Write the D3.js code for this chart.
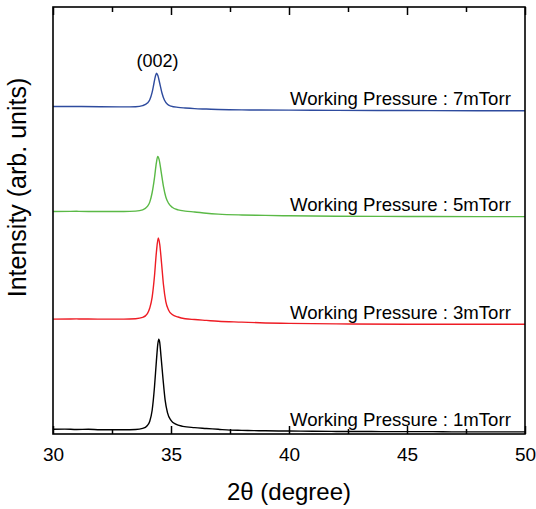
<!DOCTYPE html>
<html>
<head>
<meta charset="utf-8">
<script src="https://cdn.jsdelivr.net/npm/d3@7"></script>
<style>
  html, body { margin: 0; padding: 0; background: #fff; }
  svg { display: block; font-family: "Liberation Sans", Arial, sans-serif; }
</style>
</head>
<body>
<svg id="chart" width="536" height="509"></svg>
<script>
// ---- data (2θ in degrees, stacked intensity in arb. units) ----
const seriesNames = ["1mTorr", "3mTorr", "5mTorr", "7mTorr"];
const seriesColors = ["#000000", "#ee1c24", "#5ab946", "#2e4b9e"];

const black1 = [[30,1.1],[30.5,1.15],[31,1.05],[31.5,1.1],[32,1.0],[32.5,1.0],[33,1.0],[33.5,1.05],[33.8,1.3],[34.0,2.0],[34.1,3.0],[34.2,5.5],[34.3,11],[34.38,17],[34.44,21],[34.48,22.2],[34.52,21.5],[34.58,18],[34.66,13],[34.75,8],[34.85,5],[35.0,3.2],[35.2,2.3],[35.5,1.8],[36,1.5],[36.5,1.3],[37,1.1],[37.5,0.9],[38,0.85],[38.5,0.8],[39,0.75],[40,0.7],[41,0.65],[42,0.6],[43,0.6],[44,0.55],[45,0.55],[46,0.55],[47,0.5],[48,0.5],[49,0.5],[50,0.5]];
const red3 = [[30,26.9],[31,26.95],[32,26.9],[33,26.9],[33.5,27.0],[33.8,27.3],[34.0,28.2],[34.1,29.5],[34.2,32],[34.3,37],[34.38,42.5],[34.46,45.9],[34.52,44.5],[34.6,40],[34.68,35],[34.78,31],[34.9,29],[35.05,28],[35.3,27.4],[35.6,27.0],[36,26.8],[36.5,26.6],[37,26.4],[38,26.2],[39,26.0],[40,25.9],[42,25.8],[45,25.7],[48,25.7],[50,25.7]];
const green5 = [[30,52.1],[31,52.15],[32,52.1],[33,52.1],[33.5,52.2],[33.8,52.5],[34.0,53.3],[34.1,54.3],[34.2,56.5],[34.3,60],[34.38,63.5],[34.44,65.0],[34.5,64.2],[34.58,61.5],[34.68,58],[34.78,55.5],[34.9,54],[35.05,53.1],[35.3,52.5],[35.6,52.2],[36,52.0],[36.5,51.7],[37,51.5],[38,51.3],[39,51.2],[40,51.1],[42,51.0],[45,50.95],[48,50.9],[50,50.9]];
const blue7 = [[30,76.7],[31,76.7],[32,76.65],[33,76.6],[33.5,76.65],[33.8,76.9],[34.0,77.5],[34.1,78.3],[34.2,80],[34.28,82.2],[34.34,83.8],[34.39,84.5],[34.44,84.0],[34.52,82.2],[34.62,79.8],[34.72,78.2],[34.85,77.2],[35.0,76.8],[35.3,76.5],[35.6,76.35],[36,76.2],[36.5,76.1],[37,76.0],[38,75.9],[40,75.85],[42,75.8],[45,75.75],[48,75.7],[50,75.7]];

const xTicks = [30, 35, 40, 45, 50];
const xMinorTicks = [32.5, 37.5, 42.5, 47.5];
const peakLabel = "(002)";
const peakPos = [34.39, 84.5];

// ---- layout ----
const svg = d3.select("#chart");
const padL = 53, padR = 525, padT = 7, padB = 434;
const x = d3.scaleLinear().domain([30, 50]).range([padL, padR]);
const y = d3.scaleLinear().domain([0, 100]).range([padB, padT]);

const allSeries = [black1, red3, green5, blue7];

// curves
const line = d3.line().x(d => x(d[0])).y(d => y(d[1])).curve(d3.curveMonotoneX);
allSeries.forEach((s, i) => {
  svg.append("path").datum(s)
    .attr("d", line)
    .attr("fill", "none")
    .attr("stroke", seriesColors[i])
    .attr("stroke-width", 1.4);
});

// series labels
allSeries.forEach((s, i) => {
  const last = s[s.length - 1];
  svg.append("text")
    .attr("x", x(49.4))
    .attr("y", y(last[1]) - 5.5)
    .attr("text-anchor", "end")
    .attr("font-size", 18.6)
    .attr("fill", "#000")
    .text("Working Pressure : " + seriesNames[i]);
});

// peak label
svg.append("text")
  .attr("x", x(peakPos[0]) + 1)
  .attr("y", y(peakPos[1]) - 6)
  .attr("text-anchor", "middle")
  .attr("font-size", 18)
  .attr("fill", "#000")
  .text(peakLabel);

// axes: bottom and top with inward ticks
const bAxis = d3.axisBottom(x).tickValues(xTicks).tickSize(-8).tickPadding(14).tickFormat(d3.format("d"));
const gB = svg.append("g").attr("transform", `translate(0,${padB})`).call(bAxis);
gB.select(".domain").remove();
gB.selectAll(".tick line").attr("stroke", "#000").attr("stroke-width", 1.5);
gB.selectAll(".tick text").attr("font-size", 19).attr("fill", "#000").attr("font-family", "Liberation Sans, Arial, sans-serif");

const bMinor = d3.axisBottom(x).tickValues(xMinorTicks).tickSize(-5).tickFormat("");
const gBm = svg.append("g").attr("transform", `translate(0,${padB})`).call(bMinor);
gBm.select(".domain").remove();
gBm.selectAll(".tick line").attr("stroke", "#000").attr("stroke-width", 1.5);

const tAxis = d3.axisTop(x).tickValues(xTicks).tickSize(-8).tickFormat("");
const gT = svg.append("g").attr("transform", `translate(0,${padT})`).call(tAxis);
gT.select(".domain").remove();
gT.selectAll(".tick line").attr("stroke", "#000").attr("stroke-width", 1.5);
const tMinor = d3.axisTop(x).tickValues(xMinorTicks).tickSize(-5).tickFormat("");
const gTm = svg.append("g").attr("transform", `translate(0,${padT})`).call(tMinor);
gTm.select(".domain").remove();
gTm.selectAll(".tick line").attr("stroke", "#000").attr("stroke-width", 1.5);

// frame
svg.append("rect")
  .attr("x", padL).attr("y", padT)
  .attr("width", padR - padL).attr("height", padB - padT)
  .attr("fill", "none").attr("stroke", "#000").attr("stroke-width", 1.6);

// axis titles
svg.append("text")
  .attr("x", (padL + padR) / 2)
  .attr("y", 500)
  .attr("text-anchor", "middle")
  .attr("font-size", 24)
  .attr("fill", "#000")
  .text("2θ (degree)");

svg.append("text")
  .attr("transform", `translate(26,${(73 + 302) / 2}) rotate(-90)`)
  .attr("text-anchor", "middle")
  .attr("font-size", 25)
  .attr("fill", "#000")
  .text("Intensity (arb. units)");
</script>
</body>
</html>
